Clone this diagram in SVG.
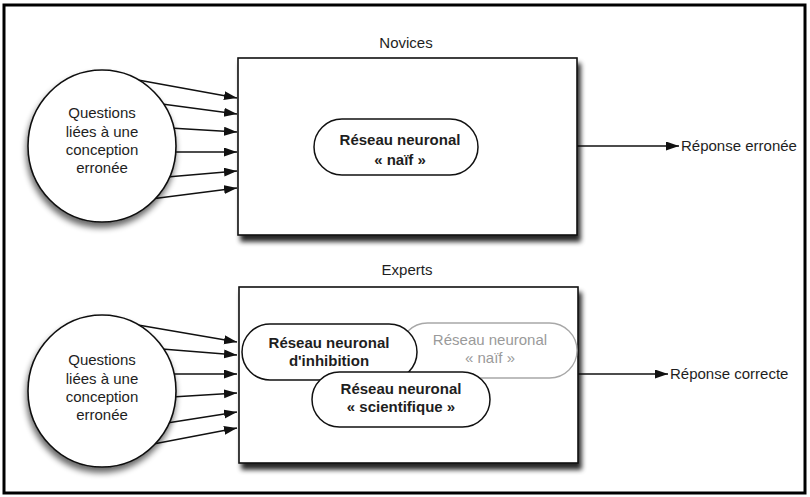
<svg xmlns="http://www.w3.org/2000/svg" width="810" height="497" viewBox="0 0 810 497">
<defs>
<style>
text{font-family:"Liberation Sans",Arial,sans-serif;font-size:15px;fill:#1e1e1e}
.c{text-anchor:middle}
.b{font-weight:bold}
.g{fill:#9a9a9a}
.box{fill:#fff;stroke:#111;stroke-width:1.6}
.circ{fill:#fff;stroke:#111;stroke-width:1.6}
.pill{fill:#fff;stroke:#111;stroke-width:1.5}
.pillg{fill:#fff;stroke:#a8a8a8;stroke-width:1.3}
.arr{stroke:#111;stroke-width:1.3;fill:none;marker-end:url(#ah)}
</style>
<marker id="ah" markerUnits="userSpaceOnUse" markerWidth="14" markerHeight="10" refX="13" refY="4.5" orient="auto"><path d="M0,0 L13,4.5 L0,9 z" fill="#111"/></marker>
<filter id="bsh" x="-5%" y="-5%" width="115%" height="120%"><feGaussianBlur in="SourceAlpha" stdDeviation="2.5"/><feOffset dx="3" dy="6" result="o"/><feComponentTransfer><feFuncA type="linear" slope="0.85"/></feComponentTransfer><feMerge><feMergeNode/><feMergeNode in="SourceGraphic"/></feMerge></filter>
<filter id="csh" x="-15%" y="-15%" width="130%" height="135%"><feGaussianBlur in="SourceAlpha" stdDeviation="3"/><feOffset dx="-1" dy="5"/><feComponentTransfer><feFuncA type="linear" slope="0.6"/></feComponentTransfer><feMerge><feMergeNode/><feMergeNode in="SourceGraphic"/></feMerge></filter>
</defs>
<rect x="4" y="5" width="801" height="488" fill="#fff" stroke="#000" stroke-width="3"/>
<g id="connectors">
<line class="arr" x1="138" y1="80" x2="237" y2="98"/>
<line class="arr" x1="162" y1="104" x2="237" y2="114"/>
<line class="arr" x1="170" y1="128" x2="237" y2="132"/>
<line class="arr" x1="172" y1="152" x2="237" y2="152"/>
<line class="arr" x1="167" y1="177" x2="237" y2="171"/>
<line class="arr" x1="143" y1="200" x2="237" y2="188"/>
<line class="arr" x1="138" y1="325" x2="237" y2="342"/>
<line class="arr" x1="162" y1="349" x2="237" y2="355"/>
<line class="arr" x1="170" y1="374" x2="237" y2="374"/>
<line class="arr" x1="172" y1="397" x2="237" y2="393"/>
<line class="arr" x1="167" y1="423" x2="237" y2="412"/>
<line class="arr" x1="143" y1="446" x2="237" y2="428"/>
<line class="arr" x1="577" y1="146" x2="679" y2="146"/>
<line class="arr" x1="578" y1="374" x2="668" y2="374"/>
</g>
<g id="q1">
<ellipse class="circ" cx="102" cy="146" rx="74" ry="76" filter="url(#csh)"/>
<text class="c" x="102" y="118">Questions</text>
<text class="c" x="102" y="137">liées à une</text>
<text class="c" x="102" y="155">conception</text>
<text class="c" x="102" y="173">erronée</text>
</g>
<g id="q2">
<ellipse class="circ" cx="102" cy="391" rx="74" ry="76" filter="url(#csh)"/>
<text class="c" x="102" y="365">Questions</text>
<text class="c" x="102" y="384">liées à une</text>
<text class="c" x="102" y="402">conception</text>
<text class="c" x="102" y="420">erronée</text>
</g>
<g id="novices">
<text class="c" x="406" y="48">Novices</text>
<rect class="box" x="238" y="58" width="339" height="177" filter="url(#bsh)"/>
</g>
<g id="naif1">
<rect class="pill" x="314" y="119" width="164" height="56" rx="28"/>
<text class="c b" x="400" y="145">Réseau neuronal</text>
<text class="c b" x="400" y="165">« naïf »</text>
</g>
<g id="experts">
<text class="c" x="407" y="275">Experts</text>
<rect class="box" x="239" y="287" width="339" height="176" filter="url(#bsh)"/>
</g>
<g id="naif2">
<rect class="pillg" x="400" y="323" width="177" height="55" rx="27.5"/>
<text class="c g" x="490" y="345">Réseau neuronal</text>
<text class="c g" x="490" y="363">« naïf »</text>
</g>
<g id="inhibition">
<rect class="pill" x="242" y="324" width="175" height="56" rx="28"/>
<text class="c b" x="329" y="348">Réseau neuronal</text>
<text class="c b" x="329" y="366">d'inhibition</text>
</g>
<g id="scientifique">
<rect class="pill" x="312" y="372" width="178" height="55" rx="27.5"/>
<text class="c b" x="401" y="394">Réseau neuronal</text>
<text class="c b" x="401" y="412">« scientifique »</text>
</g>
<g id="outputs">
<text x="681" y="151">Réponse erronée</text>
<text x="670" y="379">Réponse correcte</text>
</g>
</svg>
